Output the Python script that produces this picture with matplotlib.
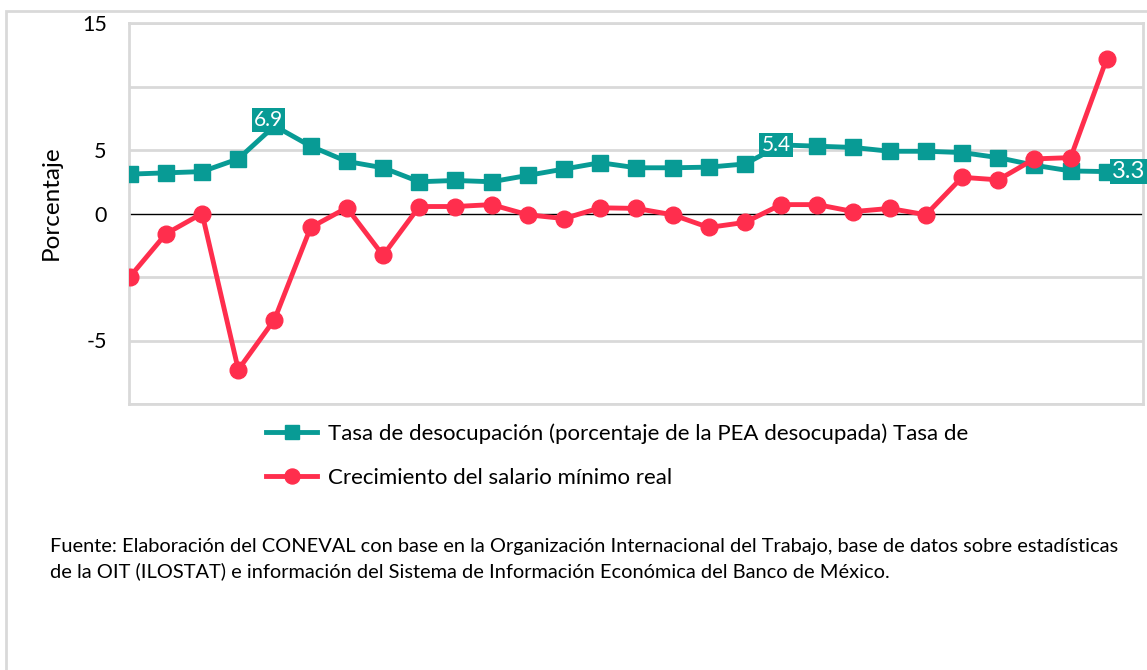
import matplotlib
matplotlib.use('Agg')
import matplotlib.pyplot as plt
import matplotlib.patches as patches
import numpy as np

plt.rcParams['font.family'] = ['Lato', 'DejaVu Sans']

# Values (28 periods, no category labels shown)
desocupacion = [3.1, 3.2, 3.3, 4.3, 6.9, 5.3, 4.1, 3.6, 2.5, 2.6, 2.5, 3.0, 3.5, 4.0,
                3.6, 3.6, 3.65, 3.9, 5.4, 5.3, 5.2, 4.9, 4.9, 4.8, 4.4, 3.8, 3.35, 3.3]
salario = [-5.0, -1.6, 0.0, -12.3, -8.35, -1.1, 0.45, -3.3, 0.55, 0.55, 0.7, -0.1, -0.4, 0.45,
           0.4, -0.1, -1.1, -0.7, 0.7, 0.7, 0.15, 0.4, -0.1, 2.85, 2.65, 4.3, 4.4, 12.2]

label_desoc = 'Tasa de desocupación (porcentaje de la PEA desocupada) Tasa de'
label_sal = 'Crecimiento del salario mínimo real'
ytick_pos = [15, 5, 0, -10]
ytick_txt = ['15', '5', '0', '-5']
grid_lines = [-15, -10, -5, 5, 10, 15]
fuente = ('Fuente: Elaboración del CONEVAL con base en la Organización Internacional del Trabajo, base de datos sobre estadísticas\n'
          'de la OIT (ILOSTAT) e información del Sistema de Información Económica del Banco de México.')

teal = '#089B95'
red = '#FF2E4D'
grey = '#D9D9D9'

fig = plt.figure(figsize=(11.47, 6.70), dpi=100)
ax = fig.add_axes([129/1147, 1 - 404/670, (1143 - 129)/1147, (404 - 23)/670])

x = np.arange(len(desocupacion))
l1, = ax.plot(x, desocupacion, color=teal, lw=3.5, marker='s', ms=11, zorder=3, label=label_desoc)
l2, = ax.plot(x, salario, color=red, lw=3.5, marker='o', ms=12, zorder=4, label=label_sal)

ax.set_xlim(-0.02, 28)
ax.set_ylim(-15, 15)
for g in grid_lines:
    ax.axhline(g, color=grey, lw=2, zorder=1)
ax.axhline(0, color='black', lw=1, zorder=2)

ax.set_xticks([])
ax.set_yticks(ytick_pos)
ax.set_yticklabels(ytick_txt, fontsize=15.5)
ax.tick_params(axis='y', length=0, pad=16)
for s in ax.spines.values():
    s.set_color(grey)
    s.set_linewidth(2)
ax.set_ylabel('Porcentaje', fontsize=17.5)
ax.yaxis.set_label_coords(-0.066, 0.528)

# data labels
def box_label(i, val, dx, dy, size):
    ax.annotate(f'{val:.1f}', (i, val), xytext=(dx * 0.72, dy * 0.72), textcoords='offset points',
                ha='center', va='center', color='white', fontsize=size, zorder=6, annotation_clip=False,
                bbox=dict(boxstyle='square,pad=0.1', fc=teal, ec='none'))

box_label(4, desocupacion[4], -6, 6, 15)
box_label(18, desocupacion[18], -5, 0, 15)
box_label(27, desocupacion[27], 22, 0, 17)

fig.legend(handles=[l1, l2], loc='upper left', bbox_to_anchor=(266/1147, 1 - 423/670),
           frameon=False, fontsize=16, handlelength=2.3, handletextpad=0.5, labelspacing=1.1,
           borderpad=0, borderaxespad=0, markerscale=0.9)

fig.text(50/1147, 1 - 559/670, fuente, fontsize=14.4, va='center', ha='left', linespacing=1.45)

# outer chart frame
frame = patches.Rectangle((6/1147, -0.05), 1.2, 1 - 11/670 + 0.05, transform=fig.transFigure,
                          fill=False, ec=grey, lw=2, clip_on=False)
fig.patches.append(frame)

fig.savefig('out.png', dpi=100)
